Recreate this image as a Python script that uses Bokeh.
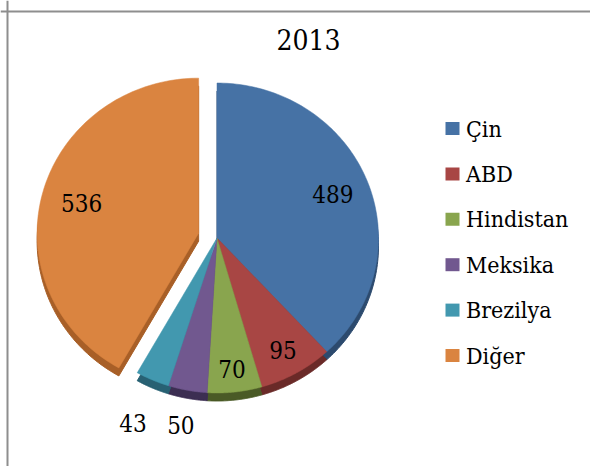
import numpy as np
from bokeh.plotting import figure
from bokeh.models import Range1d, Span, ColumnDataSource
from bokeh.embed import file_html
from bokeh.resources import INLINE
from bokeh.core.properties import value

# ---- data ----
title_text = "2013"
categories = ["Çin", "ABD", "Hindistan", "Meksika", "Brezilya", "Diğer"]
values = [489, 95, 70, 50, 43, 536]
colors = ["#4672A5", "#A84644", "#89A54E", "#71588F", "#4298AF", "#DA8440"]
side_colors = ["#2C4A6E", "#6A2A28", "#4A5A26", "#3C2E52", "#286173", "#A85F27"]
explode = [0, 0, 0, 0, 0, 19]

# ---- layout constants (pixels, page coordinates) ----
W, H = 590, 466
CX, CY = 216.5, 237.5
RX, RY = 161.5, 155.0
DEPTH = 8
label_r = [0.77, 0.83, 0.85, 1.225, 1.30, 0.75]
FONT = "DejaVu Serif Condensed"

p = figure(width=W, height=H, x_range=Range1d(0, W), y_range=Range1d(H, 0),
           output_backend="svg", toolbar_location=None, min_border=0,
           x_axis_location=None, y_axis_location=None)
p.grid.visible = False
p.outline_line_color = None
p.background_fill_color = "white"
p.border_fill_color = "white"

vals = np.array(values, dtype=float)
ends = np.cumsum(vals) / vals.sum() * 2 * np.pi
starts = np.concatenate([[0.0], ends[:-1]])
mids = (starts + ends) / 2

top_xs, top_ys, side_xs, side_ys = [], [], [], []
lab_x, lab_y = [], []
for i in range(len(vals)):
    ox = CX + explode[i] * np.sin(mids[i])
    oy = CY - explode[i] * np.cos(mids[i])
    t = np.linspace(starts[i], ends[i], 120)
    xs = np.concatenate([[ox], ox + RX * np.sin(t)])
    ys = np.concatenate([[oy], oy - RY * np.cos(t)])
    top_xs.append(list(xs)); top_ys.append(list(ys))
    side_xs.append(list(xs)); side_ys.append(list(ys + DEPTH))
    lab_x.append(ox + label_r[i] * RX * np.sin(mids[i]))
    lab_y.append(oy - label_r[i] * RY * np.cos(mids[i]))

side_src = ColumnDataSource(dict(xs=side_xs, ys=side_ys, c=side_colors))
top_src = ColumnDataSource(dict(xs=top_xs, ys=top_ys, c=colors))
p.patches("xs", "ys", source=side_src, fill_color="c", line_color="c", line_width=1)
p.patches("xs", "ys", source=top_src, fill_color="c", line_color="c", line_width=0.5)

lab_src = ColumnDataSource(dict(x=lab_x, y=lab_y, t=[str(v) for v in values]))
p.text("x", "y", text="t", source=lab_src, text_font=value(FONT), text_font_size="24px",
       text_align="center", text_baseline="middle", text_color="black")

# title
p.text(x=[308], y=[38.7], text=[title_text], text_font=value(FONT), text_font_size="28px",
       text_align="center", text_baseline="middle", text_color="black")

# legend
LX_SQ, LX_TX, LY0, LPITCH = 452, 465.5, 128, 45.4
leg_y = [LY0 + i * LPITCH for i in range(len(categories))]
p.rect(x=[LX_SQ] * len(categories), y=leg_y, width=14, height=13,
       fill_color=colors, line_color=None)
p.text(x=[LX_TX] * len(categories), y=leg_y, text=categories, text_font=value(FONT),
       text_font_size="23px", text_align="left", text_baseline="middle", text_color="black")

# chart area border (left & top)
p.add_layout(Span(location=7, dimension="height", line_color="#8E8E8E", line_width=2))
p.add_layout(Span(location=11, dimension="width", line_color="#8E8E8E", line_width=2))

open("out.html", "w").write(file_html(p, INLINE))
